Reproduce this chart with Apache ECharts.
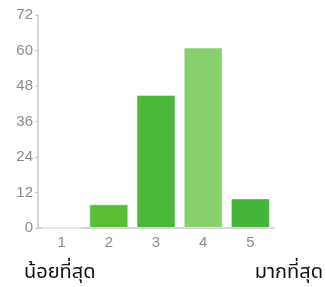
<!DOCTYPE html>
<html>
<head>
<meta charset="utf-8">
<script src="https://cdn.jsdelivr.net/npm/echarts@6/dist/echarts.min.js"></script>
<style>
  html, body { margin: 0; padding: 0; background: #fff; }
  #chart { width: 326px; height: 287px; }
</style>
</head>
<body>
<div id="chart"></div>
<script>
// ระดับคะแนน 1-5
const categories = ['1', '2', '3', '4', '5'];
const counts = [0, 8, 45, 61, 10];
const barColors = ['#4cb83a', '#5abd36', '#4cb83a', '#88d06b', '#44b43a'];
const lowLabel = 'น้อยที่สุด';
const highLabel = 'มากที่สุด';

const chart = echarts.init(document.getElementById('chart'));

chart.setOption({
  animation: false,
  grid: { left: 38, right: 52, top: 15, bottom: 59 },
  xAxis: {
    type: 'category',
    data: categories,
    axisLine: { lineStyle: { color: '#c8c8c8', width: 1.5 } },
    axisTick: { alignWithLabel: true, length: 4, lineStyle: { color: '#c8c8c8' } },
    axisLabel: { color: '#8c8c8c', fontSize: 15, fontFamily: 'Liberation Sans, Arial', margin: 7 }
  },
  yAxis: {
    type: 'value',
    min: 0,
    max: 72,
    interval: 12,
    axisLine: { show: true, lineStyle: { color: '#c8c8c8', width: 1.5 } },
    axisTick: { show: true, length: 3, lineStyle: { color: '#c8c8c8' } },
    splitLine: { show: false },
    axisLabel: { color: '#8c8c8c', fontSize: 15, fontFamily: 'Liberation Sans, Arial', margin: 5 }
  },
  series: [{
    type: 'bar',
    barWidth: 39,
    data: counts.map((v, i) => ({
      value: v,
      itemStyle: { color: barColors[i], borderColor: 'rgba(255,255,255,0.5)', borderWidth: 1 }
    }))
  }],
  graphic: [
    {
      type: 'text', left: 24, top: 264,
      style: { text: lowLabel, fill: '#111', font: '20px "Noto Sans Thai", "Noto Sans", sans-serif' }
    },
    {
      type: 'text', right: 3, top: 264,
      style: { text: highLabel, fill: '#111', font: '20px "Noto Sans Thai", "Noto Sans", sans-serif' }
    }
  ]
});
</script>
</body>
</html>
